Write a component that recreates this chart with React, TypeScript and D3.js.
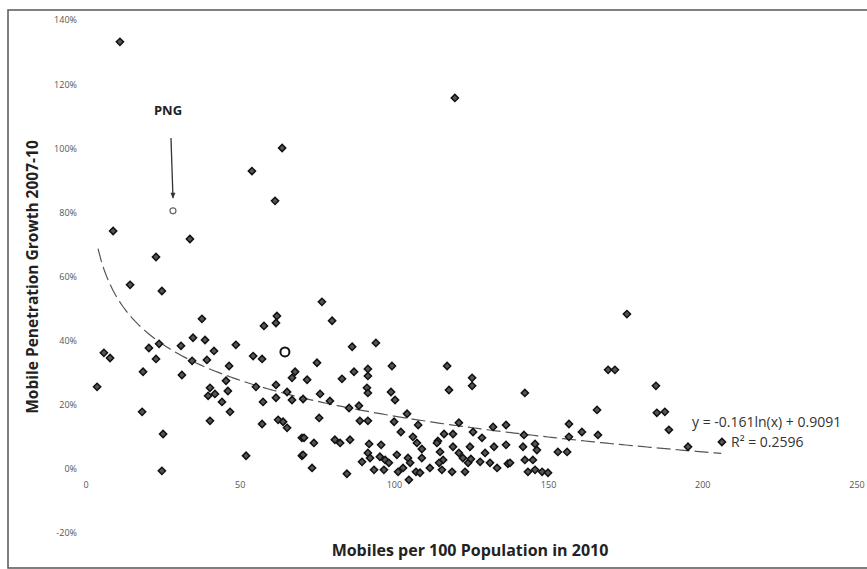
import { useRef, useEffect } from 'react'
import * as d3 from 'd3'

// [mobiles per 100 (2010), growth 2007-10 in %]
const countries: [number, number][] = [
  [11.0, 133.5], [63.6, 100.4], [53.8, 93.2], [61.3, 83.9], [119.6, 116.0],
  [8.8, 74.5], [33.7, 72.0], [22.7, 66.4], [14.3, 57.7], [24.6, 55.8],
  [37.6, 47.1], [57.7, 44.9], [61.9, 48.0], [61.6, 45.8], [5.8, 36.5],
  [7.8, 34.9], [20.4, 38.0], [23.7, 39.3], [22.7, 34.6], [30.8, 38.7],
  [34.7, 41.2], [38.6, 40.5], [41.5, 37.1], [34.4, 34.0], [39.2, 34.3],
  [48.6, 39.0], [46.4, 32.4], [54.2, 35.5], [57.1, 34.6], [18.5, 30.6],
  [31.1, 29.6], [67.8, 30.6], [66.8, 28.7], [3.6, 25.9], [45.4, 27.8],
  [55.1, 25.9], [61.6, 26.5], [65.2, 24.3], [40.2, 25.6], [39.6, 23.1],
  [41.8, 23.7], [46.0, 24.6], [57.4, 21.2], [61.6, 22.5], [66.8, 21.8],
  [70.4, 22.1], [44.1, 21.2], [46.7, 18.1], [18.2, 18.1], [40.2, 15.3],
  [57.1, 14.3], [62.3, 15.6], [63.9, 15.0], [65.2, 13.1], [70.0, 10.0],
  [25.0, 11.2], [51.9, 4.4], [70.0, 4.4], [24.6, -0.3], [76.5, 52.4],
  [79.8, 46.5], [86.3, 38.4], [94.0, 39.6], [74.9, 33.4], [86.9, 30.6],
  [91.4, 31.5], [91.4, 29.3], [99.2, 32.4], [71.7, 28.1], [83.0, 28.4],
  [91.1, 25.6], [91.4, 24.0], [98.9, 24.3], [100.2, 21.8], [75.9, 23.7],
  [79.1, 21.5], [85.3, 19.3], [88.5, 20.0], [75.6, 16.2], [88.8, 15.3],
  [91.4, 15.3], [99.9, 15.0], [104.1, 17.5], [107.7, 14.0], [117.1, 32.4],
  [117.7, 24.9], [125.2, 28.7], [125.2, 26.2], [120.9, 14.7], [125.5, 11.8],
  [132.0, 13.4], [136.2, 14.0], [70.7, 10.0], [73.9, 8.4], [80.7, 9.4],
  [82.4, 8.4], [85.6, 9.4], [102.1, 11.8], [106.0, 10.3], [107.3, 8.4],
  [116.1, 11.2], [119.0, 11.2], [128.4, 10.0], [91.8, 8.1], [95.7, 7.8],
  [114.1, 9.0], [108.9, 6.5], [91.4, 5.3], [92.1, 3.7], [95.3, 4.1],
  [97.0, 3.1], [98.2, 2.2], [100.8, 4.7], [104.4, 3.7], [105.1, 2.2],
  [102.8, 0.6], [101.2, -0.6], [107.0, -0.6], [108.3, -0.9], [108.9, 3.7],
  [111.5, 0.6], [113.8, 8.4], [114.8, 5.6], [115.8, 3.1], [114.5, 2.2],
  [115.4, 0.0], [118.7, -0.6], [120.9, 5.3], [122.2, 3.7], [123.9, 2.2],
  [122.9, -0.6], [124.8, 3.4], [124.5, 7.2], [127.8, 2.5], [129.4, 5.3],
  [132.3, 7.2], [131.0, 2.2], [133.3, 0.6], [136.2, 7.8], [136.8, 1.9],
  [89.5, 2.5], [93.4, 0.0], [84.6, -1.2], [73.3, 0.6], [70.4, 4.7],
  [96.6, 0.0], [104.7, -3.1], [119.0, 7.2], [142.3, 24.0], [156.6, 14.3],
  [156.6, 10.3], [142.0, 10.9], [145.6, 8.1], [146.2, 6.2], [141.7, 7.2],
  [153.0, 5.6], [156.0, 5.6], [142.3, 3.1], [144.9, 3.1], [143.3, -0.6],
  [145.6, 0.0], [147.9, -0.6], [149.8, -0.9], [137.5, 2.2], [175.4, 48.6],
  [169.3, 31.2], [171.5, 31.2], [184.8, 26.2], [165.7, 18.7], [185.1, 17.8],
  [187.7, 18.1], [189.0, 12.5], [160.8, 11.8], [166.0, 10.9], [195.2, 7.2],
  [206.2, 8.7],
]

// highlighted country (open marker) and Papua New Guinea
const highlighted: [number, number] = [64.5, 36.8]
const png: [number, number] = [28.2, 80.8]

const xTicks = [0, 50, 100, 150, 200, 250]
const yTicks = [-20, 0, 20, 40, 60, 80, 100, 120, 140]

// logarithmic trendline from the chart: y = -0.161 ln(x) + 0.9091
const trendA = -0.161
const trendB = 0.9091
const trendRange = [3.9, 206]

const W = 867
const H = 569
const FONT = "'Open Sans','Noto Sans',sans-serif"

export default function App() {
  const svgRef = useRef<SVGSVGElement>(null)

  useEffect(() => {
    const svg = d3.select(svgRef.current)
    svg.selectAll('*').remove()

    const x = d3.scaleLinear().domain([0, 250]).range([86, 857])
    const y = d3.scaleLinear().domain([-20, 140]).range([534, 21])

    svg.append('rect').attr('width', W).attr('height', H).attr('fill', '#fff')

    // outer frame
    svg.append('rect')
      .attr('x', 8).attr('y', 10).attr('width', W + 10).attr('height', 558)
      .attr('fill', 'none').attr('stroke', '#555').attr('stroke-width', 1.5)

    // y tick labels
    yTicks.forEach((t) => {
      svg.append('text')
        .attr('x', 77).attr('y', y(t))
        .attr('text-anchor', 'end').attr('dominant-baseline', 'middle')
        .attr('fill', '#555').attr('font-size', '9px').attr('font-family', FONT)
        .text(`${t}%`)
    })

    // x tick labels sit just under the 0% line
    xTicks.forEach((t) => {
      svg.append('text')
        .attr('x', x(t)).attr('y', y(0) + 18)
        .attr('text-anchor', 'middle')
        .attr('fill', '#555').attr('font-size', '9px').attr('font-family', FONT)
        .text(t)
    })

    // axis titles
    svg.append('text')
      .attr('transform', `translate(38,${277}) rotate(-90)`)
      .attr('text-anchor', 'middle')
      .attr('fill', '#222').attr('font-size', '15.5px').attr('font-weight', 'bold')
      .attr('font-family', FONT)
      .text('Mobile Penetration Growth 2007-10')

    svg.append('text')
      .attr('x', 470).attr('y', 556)
      .attr('text-anchor', 'middle')
      .attr('fill', '#222').attr('font-size', '16px').attr('font-weight', 'bold')
      .attr('font-family', FONT)
      .text('Mobiles per 100 Population in 2010')

    // trendline
    const trendData = d3.range(trendRange[0], trendRange[1], 1).concat(trendRange[1])
    const line = d3.line<number>()
      .x((d) => x(d))
      .y((d) => y((trendA * Math.log(d) + trendB) * 100))
    svg.append('path')
      .attr('d', line(trendData))
      .attr('fill', 'none').attr('stroke', '#555').attr('stroke-width', 1.2)
      .attr('stroke-dasharray', '14,5')

    // markers
    const diamond = d3.symbol().type(d3.symbolSquare).size(26)
    svg.append('g')
      .selectAll('path')
      .data(countries)
      .join('path')
      .attr('d', diamond)
      .attr('transform', (d) => `translate(${x(d[0])},${y(d[1])}) rotate(45)`)
      .attr('fill', '#555').attr('stroke', '#111').attr('stroke-width', 1.5)

    svg.append('circle')
      .attr('cx', x(highlighted[0])).attr('cy', y(highlighted[1])).attr('r', 4.5)
      .attr('fill', '#fff').attr('stroke', '#111').attr('stroke-width', 2)

    svg.append('circle')
      .attr('cx', x(png[0])).attr('cy', y(png[1])).attr('r', 3)
      .attr('fill', '#fff').attr('stroke', '#666').attr('stroke-width', 1.2)

    // PNG annotation
    svg.append('text')
      .attr('x', 168).attr('y', 115)
      .attr('text-anchor', 'middle')
      .attr('fill', '#222').attr('font-size', '13px').attr('font-weight', 'bold')
      .attr('font-family', FONT)
      .text('PNG')
    const ax = x(png[0])
    const ay = y(png[1]) - 13
    svg.append('line')
      .attr('x1', ax - 2).attr('y1', 138).attr('x2', ax).attr('y2', ay)
      .attr('stroke', '#333').attr('stroke-width', 1.3)
    svg.append('path')
      .attr('d', `M${ax - 2.5},${ay - 5} L${ax},${ay + 1} L${ax + 2.5},${ay - 5} Z`)
      .attr('fill', '#333')

    // equation
    svg.append('text')
      .attr('x', 692).attr('y', 427)
      .attr('fill', '#333').attr('font-size', '14px').attr('font-family', FONT)
      .text('y = -0.161ln(x) + 0.9091')
    svg.append('text')
      .attr('x', 731).attr('y', 447)
      .attr('fill', '#333').attr('font-size', '14px').attr('font-family', FONT)
      .text('R² = 0.2596')
  }, [])

  return (
    <svg
      ref={svgRef}
      width={W}
      height={H}
      style={{ position: 'absolute', left: 0, top: 0, display: 'block' }}
    />
  )
}
